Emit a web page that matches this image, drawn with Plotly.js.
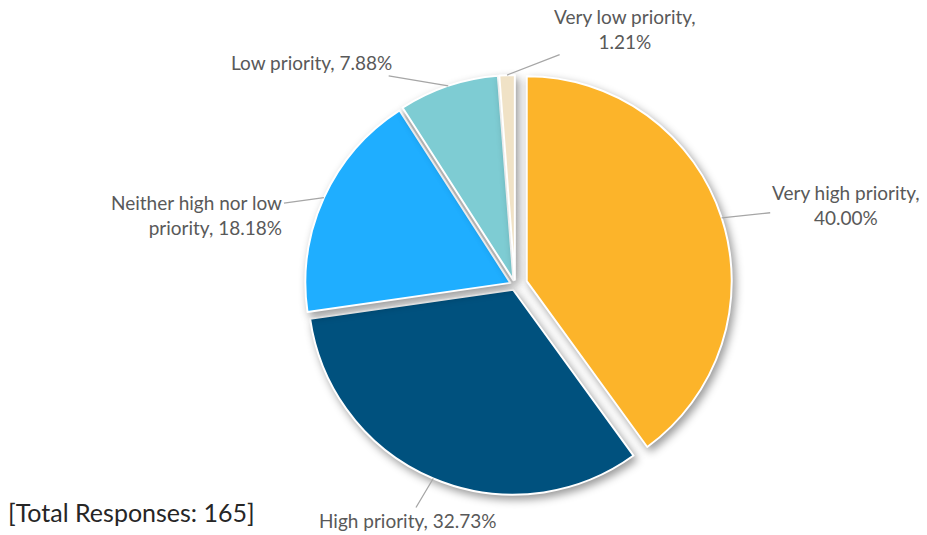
<!DOCTYPE html>
<html>
<head>
<meta charset="utf-8">
<script src="https://cdn.plot.ly/plotly-3.0.1.min.js"></script>
<style>
  html, body { margin: 0; padding: 0; background: #fff; }
  #chart { width: 927px; height: 535px; }
  .pielayer .slice path.surface { filter: drop-shadow(3px 4px 4px rgba(0,0,0,0.4)); }
</style>
</head>
<body>
<div id="chart"></div>
<script>
const categories = ["Very high priority", "High priority", "Neither high nor low priority", "Low priority", "Very low priority"];
const percents = [40.00, 32.73, 18.18, 7.88, 1.21];
const labelTexts = ["Very high priority,<br>40.00%", "High priority, 32.73%", "Neither high nor low<br>priority, 18.18%", "Low priority, 7.88%", "Very low priority,<br>1.21%"];
const totalResponses = 165;

const colors = ["#FCB42A", "#00517E", "#1FAEFF", "#7ECCD3", "#F0E2C6"];
const pulls = [0.06, 0.025, 0.025, 0.025, 0.025];
// label text offsets (pixels) from the slice edge point
const labelOffsets = [[124, -13], [-25, 42], [-127, 17], [-137, -23], [118, -46]];
const labelAlign = ["center", "center", "right", "center", "center"];

const W = 927, H = 535;
const trace = {
  type: "pie",
  labels: categories,
  values: percents,
  sort: false,
  direction: "clockwise",
  rotation: 0,
  pull: pulls,
  textinfo: "none",
  hoverinfo: "label+percent",
  marker: { colors: colors, line: { color: "#ffffff", width: 2 } },
  domain: { x: [0.3212, 0.790], y: [0.0611, 0.8735] },
  showlegend: false
};
const layout = {
  width: W, height: H,
  margin: { l: 0, r: 0, t: 0, b: 0 },
  paper_bgcolor: "#ffffff",
  font: { family: "Lato, 'Noto Sans', sans-serif", color: "#595959", size: 19 },
  showlegend: false
};

Plotly.newPlot("chart", [trace], layout, { displayModeBar: false, staticPlot: true }).then(gd => {
  const cd0 = gd.calcdata[0][0];
  const cx = cd0.cx, cy = cd0.cy, r = cd0.r;
  const total = percents.reduce((a, b) => a + b, 0);
  let cum = 0;
  const anns = [];
  percents.forEach((v, i) => {
    const mid = (cum + v / 2) / total * 2 * Math.PI;
    cum += v;
    const dist = r * (1 + pulls[i]);
    const px = cx + dist * Math.sin(mid);
    const py = cy - dist * Math.cos(mid);
    anns.push({
      x: px / W, y: 1 - py / H, xref: "paper", yref: "paper",
      text: labelTexts[i], showarrow: true, arrowhead: 0, arrowwidth: 1.3,
      arrowcolor: "#A6A6A6", ax: labelOffsets[i][0], ay: labelOffsets[i][1],
      align: labelAlign[i], font: { size: 19, color: "#595959" }
    });
  });
  anns.push({
    x: 6 / W, y: 1 - 512 / H, xref: "paper", yref: "paper",
    xanchor: "left", yanchor: "middle", showarrow: false,
    text: "[Total Responses: " + totalResponses + "]",
    font: { size: 25, color: "#262626" }
  });
  return Plotly.relayout(gd, { annotations: anns });
});
</script>
</body>
</html>
